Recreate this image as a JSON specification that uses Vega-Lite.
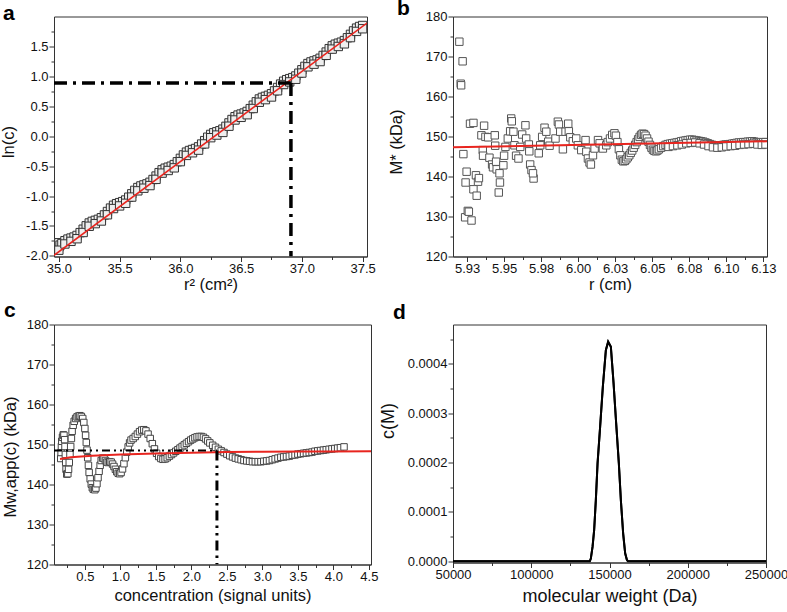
{
  "$schema": "https://vega.github.io/schema/vega-lite/v6.json",
  "background": "white",
  "padding": {"left": -1, "top": -2.5, "right": 0, "bottom": 0},
  "bounds": "flush",
  "columns": 2,
  "spacing": {"row": 68, "column": 82},
  "config": {
    "view": {"stroke": "#333", "strokeWidth": 1},
    "axis": {"grid": false, "labelFont": "Liberation Sans", "titleFont": "Liberation Sans", "labelFontSize": 13, "titleFontSize": 16.5, "titleFontWeight": "normal", "labelColor": "#111", "titleColor": "#111", "tickColor": "#333", "domainColor": "#333", "tickSize": 5, "labelPadding": 1, "labelFlush": false, "labelOverlap": false},
    "title": {"font": "Liberation Sans", "fontSize": 21, "fontWeight": "bold", "anchor": "start", "frame": "group", "baseline": "alphabetic", "color": "#000"}
  },
  "datasets": {
    "pa": [
      {"x":35.000,"y":-1.850},{"x":35.000,"y":-1.780},{"x":35.010,"y":-1.820},{"x":35.025,"y":-1.793},{"x":35.050,"y":-1.746},{"x":35.075,"y":-1.719},{"x":35.100,"y":-1.702},{"x":35.125,"y":-1.685},{"x":35.150,"y":-1.658},{"x":35.175,"y":-1.611},{"x":35.200,"y":-1.554},{"x":35.225,"y":-1.497},{"x":35.250,"y":-1.450},{"x":35.275,"y":-1.423},{"x":35.300,"y":-1.406},{"x":35.325,"y":-1.389},{"x":35.350,"y":-1.362},{"x":35.375,"y":-1.315},{"x":35.400,"y":-1.258},{"x":35.425,"y":-1.201},{"x":35.450,"y":-1.154},{"x":35.475,"y":-1.127},{"x":35.500,"y":-1.110},{"x":35.525,"y":-1.093},{"x":35.550,"y":-1.066},{"x":35.575,"y":-1.019},{"x":35.600,"y":-0.962},{"x":35.625,"y":-0.905},{"x":35.650,"y":-0.858},{"x":35.675,"y":-0.831},{"x":35.700,"y":-0.814},{"x":35.725,"y":-0.797},{"x":35.750,"y":-0.770},{"x":35.775,"y":-0.723},{"x":35.800,"y":-0.666},{"x":35.825,"y":-0.609},{"x":35.850,"y":-0.562},{"x":35.875,"y":-0.535},{"x":35.900,"y":-0.518},{"x":35.925,"y":-0.501},{"x":35.950,"y":-0.474},{"x":35.975,"y":-0.427},{"x":36.000,"y":-0.370},{"x":36.025,"y":-0.313},{"x":36.050,"y":-0.266},{"x":36.075,"y":-0.239},{"x":36.100,"y":-0.222},{"x":36.125,"y":-0.205},{"x":36.150,"y":-0.178},{"x":36.175,"y":-0.131},{"x":36.200,"y":-0.074},{"x":36.225,"y":-0.017},{"x":36.250,"y":0.030},{"x":36.275,"y":0.057},{"x":36.300,"y":0.074},{"x":36.325,"y":0.091},{"x":36.350,"y":0.118},{"x":36.375,"y":0.165},{"x":36.400,"y":0.222},{"x":36.425,"y":0.279},{"x":36.450,"y":0.326},{"x":36.475,"y":0.353},{"x":36.500,"y":0.370},{"x":36.525,"y":0.387},{"x":36.550,"y":0.414},{"x":36.575,"y":0.461},{"x":36.600,"y":0.518},{"x":36.625,"y":0.575},{"x":36.650,"y":0.622},{"x":36.675,"y":0.649},{"x":36.700,"y":0.666},{"x":36.725,"y":0.683},{"x":36.750,"y":0.710},{"x":36.775,"y":0.757},{"x":36.800,"y":0.814},{"x":36.825,"y":0.871},{"x":36.850,"y":0.918},{"x":36.875,"y":0.945},{"x":36.900,"y":0.962},{"x":36.925,"y":0.979},{"x":36.950,"y":1.006},{"x":36.975,"y":1.053},{"x":37.000,"y":1.110},{"x":37.025,"y":1.167},{"x":37.050,"y":1.214},{"x":37.075,"y":1.241},{"x":37.100,"y":1.258},{"x":37.125,"y":1.275},{"x":37.150,"y":1.302},{"x":37.175,"y":1.349},{"x":37.200,"y":1.406},{"x":37.225,"y":1.463},{"x":37.250,"y":1.510},{"x":37.275,"y":1.537},{"x":37.300,"y":1.554},{"x":37.325,"y":1.571},{"x":37.350,"y":1.598},{"x":37.375,"y":1.645},{"x":37.400,"y":1.702},{"x":37.425,"y":1.759},{"x":37.450,"y":1.806},{"x":37.475,"y":1.833},{"x":37.500,"y":1.850},
      {"x":35.00,"y":-1.905},{"x":35.05,"y":-1.801},{"x":35.10,"y":-1.757},{"x":35.15,"y":-1.713},{"x":35.20,"y":-1.609},{"x":35.25,"y":-1.505},{"x":35.30,"y":-1.461},{"x":35.35,"y":-1.417},{"x":35.40,"y":-1.313},{"x":35.45,"y":-1.209},{"x":35.50,"y":-1.165},{"x":35.55,"y":-1.121},{"x":35.60,"y":-1.017},{"x":35.65,"y":-0.913},{"x":35.70,"y":-0.869},{"x":35.75,"y":-0.825},{"x":35.80,"y":-0.721},{"x":35.85,"y":-0.617},{"x":35.90,"y":-0.573},{"x":35.95,"y":-0.529},{"x":36.00,"y":-0.425},{"x":36.05,"y":-0.321},{"x":36.10,"y":-0.277},{"x":36.15,"y":-0.233},{"x":36.20,"y":-0.129},{"x":36.25,"y":-0.025},{"x":36.30,"y":0.019},{"x":36.35,"y":0.063},{"x":36.40,"y":0.167},{"x":36.45,"y":0.271},{"x":36.50,"y":0.315},{"x":36.55,"y":0.359},{"x":36.60,"y":0.463},{"x":36.65,"y":0.567},{"x":36.70,"y":0.611},{"x":36.75,"y":0.655},{"x":36.80,"y":0.759},{"x":36.85,"y":0.863},{"x":36.90,"y":0.907},{"x":36.95,"y":0.951},{"x":37.00,"y":1.055},{"x":37.05,"y":1.159},{"x":37.10,"y":1.203},{"x":37.15,"y":1.247},{"x":37.20,"y":1.351},{"x":37.25,"y":1.455},{"x":37.30,"y":1.499},{"x":37.35,"y":1.543},{"x":37.40,"y":1.647},{"x":37.45,"y":1.751},{"x":37.50,"y":1.795}
    ],
    "pa_fit": [{"x":34.96,"y":-1.99},{"x":37.536,"y":1.89}],
    "pa_h": [{"x":34.96,"y":0.888},{"x":36.91,"y":0.888}],
    "pa_v": [{"x":36.91,"y":0.888},{"x":36.91,"y":-2.01}],
    "pb": [
      {"x":5.9198,"y":173.7},{"x":5.9220,"y":168.8},{"x":5.9207,"y":163.2},{"x":5.9210,"y":162.8},{"x":5.9225,"y":145.6},{"x":5.9237,"y":129.8},{"x":5.9240,"y":138.5},{"x":5.9247,"y":141.2},{"x":5.9255,"y":131.4},{"x":5.9262,"y":131.2},{"x":5.9270,"y":153.2},{"x":5.9293,"y":153.4},{"x":5.9280,"y":129.0},{"x":5.9293,"y":136.8},{"x":5.9310,"y":140.3},{"x":5.9315,"y":135.2},{"x":5.9324,"y":138.7},{"x":5.9330,"y":139.6},{"x":5.9347,"y":150.3},{"x":5.9356,"y":146.6},{"x":5.9358,"y":145.2},{"x":5.9365,"y":152.7},{"x":5.9374,"y":149.9},{"x":5.9392,"y":149.8},{"x":5.9401,"y":144.7},{"x":5.9419,"y":143.0},{"x":5.9425,"y":142.3},{"x":5.9437,"y":150.3},{"x":5.9440,"y":147.7},{"x":5.9446,"y":143.7},{"x":5.9450,"y":141.8},{"x":5.9469,"y":140.8},{"x":5.9472,"y":138.5},{"x":5.9464,"y":136.0},{"x":5.9500,"y":145.2},{"x":5.9495,"y":142.8},{"x":5.9509,"y":147.4},{"x":5.9525,"y":149.5},{"x":5.9541,"y":151.3},{"x":5.9548,"y":154.5},{"x":5.9552,"y":153.8},{"x":5.9563,"y":151.2},{"x":5.9570,"y":147.8},{"x":5.9581,"y":145.2},{"x":5.9597,"y":144.5},{"x":5.9609,"y":147.4},{"x":5.9622,"y":150.5},{"x":5.9644,"y":152.8},{"x":5.9649,"y":149.5},{"x":5.9667,"y":148.0},{"x":5.9670,"y":146.3},{"x":5.9676,"y":143.0},{"x":5.9685,"y":141.6},{"x":5.9699,"y":139.5},{"x":5.9695,"y":140.8},{"x":5.9734,"y":145.8},{"x":5.9744,"y":147.8},{"x":5.9757,"y":149.9},{"x":5.9773,"y":152.2},{"x":5.9785,"y":151.2},{"x":5.9798,"y":148.7},{"x":5.9807,"y":147.7},{"x":5.9847,"y":149.5},{"x":5.9863,"y":153.7},{"x":5.9870,"y":153.0},{"x":5.9879,"y":151.2},{"x":5.9897,"y":146.8},{"x":5.9915,"y":151.2},{"x":5.9933,"y":153.2},{"x":5.9937,"y":151.3},{"x":5.9947,"y":149.8},{"x":5.9964,"y":148.8},{"x":5.9987,"y":149.5},{"x":5.9998,"y":147.8},{"x":6.0021,"y":146.6},{"x":6.0050,"y":149.1},{"x":6.0055,"y":146.2},{"x":6.0066,"y":144.5},{"x":6.0077,"y":143.5},{"x":6.0086,"y":143.0},{"x":6.0100,"y":145.3},{"x":6.0111,"y":147.0},{"x":6.0134,"y":149.1},{"x":6.0145,"y":148.3},{"x":6.0167,"y":147.0},{"x":6.0190,"y":147.8},
      {"x":6.0200,"y":148.6},{"x":6.0215,"y":149.5},{"x":6.0230,"y":150.4},{"x":6.0245,"y":150.8},{"x":6.0255,"y":150.2},{"x":6.0265,"y":148.6},{"x":6.0275,"y":146.8},{"x":6.0285,"y":145.3},{"x":6.0295,"y":144.2},{"x":6.0305,"y":143.8},{"x":6.0315,"y":143.9},{"x":6.0325,"y":144.3},{"x":6.0335,"y":144.8},{"x":6.0345,"y":145.3},{"x":6.0355,"y":145.9},{"x":6.0365,"y":146.5},{"x":6.0375,"y":147.2},{"x":6.0385,"y":147.9},{"x":6.0395,"y":148.6},{"x":6.0405,"y":149.3},{"x":6.0415,"y":149.9},{"x":6.0425,"y":150.4},{"x":6.0435,"y":150.7},{"x":6.0445,"y":150.6},{"x":6.0455,"y":150.2},{"x":6.0465,"y":149.5},{"x":6.0475,"y":148.7},{"x":6.0485,"y":147.9},{"x":6.0495,"y":147.2},{"x":6.0505,"y":146.7},{"x":6.0515,"y":146.4},{"x":6.0525,"y":146.3},{"x":6.0535,"y":146.5},{"x":6.0545,"y":146.8},{"x":6.0560,"y":147.2},{"x":6.0575,"y":147.6},{"x":6.0590,"y":147.9},{"x":6.0605,"y":148.1},{"x":6.0620,"y":148.2},{"x":6.0635,"y":148.3},{"x":6.0650,"y":148.4},{"x":6.0665,"y":148.5},{"x":6.0680,"y":148.6},{"x":6.0695,"y":148.8},{"x":6.0710,"y":148.9},{"x":6.0725,"y":149.0},{"x":6.0740,"y":149.1},{"x":6.0755,"y":149.2},{"x":6.0770,"y":149.2},{"x":6.0785,"y":149.1},{"x":6.0800,"y":149.0},{"x":6.0815,"y":148.9},{"x":6.0830,"y":148.8},{"x":6.0845,"y":148.7},{"x":6.0860,"y":148.5},{"x":6.0875,"y":148.3},{"x":6.0890,"y":148.1},{"x":6.0905,"y":147.9},{"x":6.0920,"y":147.8},{"x":6.0935,"y":147.8},{"x":6.0950,"y":147.8},{"x":6.0965,"y":147.8},{"x":6.0980,"y":147.9},{"x":6.0995,"y":148.0},{"x":6.1010,"y":148.0},{"x":6.1025,"y":148.1},{"x":6.1040,"y":148.2},{"x":6.1055,"y":148.3},{"x":6.1070,"y":148.4},{"x":6.1085,"y":148.5},{"x":6.1100,"y":148.5},{"x":6.1115,"y":148.6},{"x":6.1130,"y":148.6},{"x":6.1145,"y":148.7},{"x":6.1160,"y":148.7},{"x":6.1175,"y":148.8},{"x":6.1190,"y":148.7},{"x":6.1205,"y":148.6},{"x":6.1220,"y":148.5},{"x":6.1235,"y":148.5},{"x":6.1250,"y":148.6},{"x":6.1265,"y":148.6},
      {"x":6.0610,"y":147.4},{"x":6.0640,"y":147.6},{"x":6.0670,"y":147.8},{"x":6.0700,"y":148.0},{"x":6.0730,"y":148.3},{"x":6.0760,"y":148.4},{"x":6.0790,"y":148.5},{"x":6.0820,"y":148.3},{"x":6.0850,"y":148.0},{"x":6.0880,"y":147.6},{"x":6.0910,"y":147.3},{"x":6.0940,"y":147.2},{"x":6.0970,"y":147.3},{"x":6.1000,"y":147.5},{"x":6.1030,"y":147.6},{"x":6.1060,"y":147.7},{"x":6.1090,"y":147.9},{"x":6.1120,"y":148.0},{"x":6.1150,"y":148.1},{"x":6.1180,"y":148.2},{"x":6.1210,"y":148.0},{"x":6.1240,"y":147.9},{"x":6.1265,"y":148.0}
    ],
    "pb_fit": [{"x":5.9155,"y":147.3},{"x":6.1275,"y":148.8}],
    "pc": [
      {"x":0.160,"y":146.5},{"x":0.165,"y":148.0},{"x":0.170,"y":149.5},{"x":0.175,"y":150.8},{"x":0.185,"y":151.8},{"x":0.195,"y":152.4},{"x":0.205,"y":152.3},{"x":0.215,"y":151.2},{"x":0.220,"y":149.5},{"x":0.225,"y":147.5},{"x":0.230,"y":145.5},{"x":0.235,"y":143.8},{"x":0.245,"y":142.6},{"x":0.260,"y":142.7},{"x":0.270,"y":143.8},{"x":0.280,"y":145.5},{"x":0.290,"y":147.5},{"x":0.300,"y":149.5},{"x":0.310,"y":151.5},{"x":0.320,"y":153.3},{"x":0.335,"y":154.8},{"x":0.350,"y":155.8},{"x":0.370,"y":156.5},{"x":0.390,"y":156.9},{"x":0.410,"y":157.1},{"x":0.430,"y":157.2},{"x":0.450,"y":157.0},{"x":0.470,"y":156.5},{"x":0.485,"y":155.5},{"x":0.500,"y":154.0},{"x":0.510,"y":152.3},{"x":0.520,"y":150.5},{"x":0.530,"y":148.6},{"x":0.540,"y":146.7},{"x":0.550,"y":144.8},{"x":0.560,"y":143.0},{"x":0.575,"y":141.4},{"x":0.590,"y":140.1},{"x":0.605,"y":139.2},{"x":0.620,"y":138.8},{"x":0.640,"y":138.7},{"x":0.655,"y":139.1},{"x":0.670,"y":140.2},{"x":0.685,"y":141.7},{"x":0.700,"y":143.3},{"x":0.715,"y":144.8},{"x":0.730,"y":146.0},{"x":0.750,"y":146.6},{"x":0.770,"y":146.5},{"x":0.790,"y":146.0},{"x":0.810,"y":145.6},{"x":0.830,"y":145.5},{"x":0.850,"y":145.7},{"x":0.870,"y":145.6},{"x":0.890,"y":145.1},{"x":0.910,"y":144.5},{"x":0.930,"y":143.8},{"x":0.950,"y":143.2},{"x":0.970,"y":142.8},{"x":0.990,"y":142.7},{"x":1.010,"y":143.0},{"x":1.030,"y":143.9},{"x":1.050,"y":145.2},{"x":1.070,"y":146.7},{"x":1.090,"y":148.1},{"x":1.110,"y":149.4},{"x":1.130,"y":150.4},{"x":1.150,"y":151.1},{"x":1.180,"y":151.5},{"x":1.210,"y":152.0},{"x":1.240,"y":152.6},{"x":1.270,"y":153.2},{"x":1.300,"y":153.6},{"x":1.330,"y":153.7},{"x":1.360,"y":153.4},{"x":1.390,"y":152.6},{"x":1.420,"y":151.5},{"x":1.450,"y":150.2},{"x":1.480,"y":148.9},{"x":1.510,"y":147.8},{"x":1.540,"y":147.0},{"x":1.570,"y":146.5},{"x":1.600,"y":146.3},{"x":1.630,"y":146.4},{"x":1.660,"y":146.7},{"x":1.690,"y":147.1},{"x":1.720,"y":147.5},{"x":1.750,"y":147.9},{"x":1.780,"y":148.3},{"x":1.810,"y":148.7},{"x":1.840,"y":149.1},{"x":1.870,"y":149.5},{"x":1.900,"y":149.9},{"x":1.930,"y":150.3},{"x":1.960,"y":150.7},{"x":1.990,"y":151.1},{"x":2.020,"y":151.4},{"x":2.050,"y":151.7},{"x":2.080,"y":151.9},{"x":2.110,"y":152.0},{"x":2.140,"y":152.0},{"x":2.170,"y":151.8},{"x":2.200,"y":151.4},{"x":2.230,"y":150.9},{"x":2.260,"y":150.4},{"x":2.300,"y":149.8},{"x":2.340,"y":149.3},{"x":2.380,"y":148.8},{"x":2.420,"y":148.4},{"x":2.460,"y":148.0},{"x":2.500,"y":147.6},{"x":2.540,"y":147.2},{"x":2.580,"y":146.9},{"x":2.620,"y":146.6},{"x":2.660,"y":146.4},{"x":2.700,"y":146.2},{"x":2.740,"y":146.0},{"x":2.780,"y":145.9},{"x":2.820,"y":145.8},{"x":2.860,"y":145.7},{"x":2.900,"y":145.7},{"x":2.940,"y":145.7},{"x":2.980,"y":145.7},{"x":3.020,"y":145.8},{"x":3.060,"y":145.9},{"x":3.100,"y":146.0},{"x":3.140,"y":146.2},{"x":3.180,"y":146.4},{"x":3.220,"y":146.6},{"x":3.260,"y":146.8},{"x":3.300,"y":146.9},{"x":3.340,"y":147.0},{"x":3.380,"y":147.1},{"x":3.420,"y":147.3},{"x":3.460,"y":147.4},{"x":3.500,"y":147.6},{"x":3.540,"y":147.7},{"x":3.580,"y":147.8},{"x":3.620,"y":147.9},{"x":3.660,"y":148.0},{"x":3.700,"y":148.1},{"x":3.740,"y":148.3},{"x":3.780,"y":148.4},{"x":3.820,"y":148.5},{"x":3.860,"y":148.6},{"x":3.900,"y":148.7},{"x":3.940,"y":148.8},{"x":3.980,"y":148.9},{"x":4.020,"y":149.0},{"x":4.060,"y":149.1},{"x":4.100,"y":149.2},{"x":4.150,"y":149.4}
    ],
    "pc_fit": [{"x":0.15,"y":146.4},{"x":0.3,"y":146.8},{"x":0.6,"y":147.2},{"x":1.0,"y":147.5},{"x":1.5,"y":147.75},{"x":2.0,"y":147.95},{"x":2.5,"y":148.1},{"x":3.0,"y":148.2},{"x":3.5,"y":148.25},{"x":4.0,"y":148.28},{"x":4.53,"y":148.3}],
    "pc_h": [{"x":0.065,"y":148.5},{"x":2.36,"y":148.5}],
    "pc_v": [{"x":2.36,"y":148.5},{"x":2.36,"y":120}],
    "pd": [
      {"x":50000,"y":0},{"x":137400,"y":0},{"x":138070,"y":0.0000055},{"x":139160,"y":0.000029},{"x":140190,"y":0.000063},{"x":141270,"y":0.000124},{"x":142360,"y":0.000198},{"x":144020,"y":0.000273},{"x":145750,"y":0.000354},{"x":147670,"y":0.000428},{"x":149140,"y":0.000445},{"x":150870,"y":0.000435},{"x":152590,"y":0.000361},{"x":154250,"y":0.00028},{"x":155980,"y":0.000198},{"x":157260,"y":0.000124},{"x":158730,"y":0.000056},{"x":160010,"y":0.000016},{"x":161100,"y":0.000003},{"x":161800,"y":0},{"x":250000,"y":0}
    ]
  },
  "concat": [
    {
      "width": 313, "height": 240,
      "title": {"text": "a", "dx": -51, "offset": -7},
      "layer": [
        {"data": {"name": "pa"}, "mark": {"type": "point", "shape": "square", "filled": true, "fill": "#eeeeee", "stroke": "#333", "strokeWidth": 1, "size": 70, "opacity": 1, "clip": true},
         "encoding": {
           "x": {"field": "x", "type": "quantitative", "scale": {"domain": [34.96, 37.536], "nice": false, "zero": false},
                 "axis": {"title": "r² (cm²)", "values": [35, 35.5, 36, 36.5, 37, 37.5], "format": ".1f", "titlePadding": 1}},
           "y": {"field": "y", "type": "quantitative", "scale": {"domain": [-2.01, 2.0], "nice": false, "zero": false},
                 "axis": {"title": "ln(c)", "values": [-2, -1.5, -1, -0.5, 0, 0.5, 1, 1.5], "labelExpr": "datum.value < 0 ? '-' + format(-datum.value, '.1f') : format(datum.value, '.1f')", "titleX": -38, "titleY": 125, "titleAngle": 270, "titleBaseline": "bottom", "titleAlign": "center"}}
         }},
        {"data": {"name": "pa_fit"}, "mark": {"type": "line", "color": "#e8251f", "strokeWidth": 1.6, "clip": true},
         "encoding": {
           "x": {"field": "x", "type": "quantitative", "axis": {"orient": "bottom", "values": [35.25, 35.75, 36.25, 36.75, 37.25], "labels": false, "domain": false, "tickSize": 3, "title": null}},
           "y": {"field": "y", "type": "quantitative", "axis": {"orient": "left", "values": [-1.75, -1.25, -0.75, -0.25, 0.25, 0.75, 1.25, 1.75], "labels": false, "domain": false, "tickSize": 3, "title": null}}
         }},
        {"data": {"name": "pa_h"}, "mark": {"type": "line", "color": "black", "strokeWidth": 3.5, "strokeDash": [13, 6, 3, 6], "clip": true},
         "encoding": {"x": {"field": "x", "type": "quantitative", "axis": null}, "y": {"field": "y", "type": "quantitative", "axis": null}}},
        {"data": {"name": "pa_v"}, "mark": {"type": "line", "color": "black", "strokeWidth": 3.5, "strokeDash": [13, 6, 3, 6], "clip": true},
         "encoding": {"x": {"field": "x", "type": "quantitative", "axis": null}, "y": {"field": "y", "type": "quantitative", "axis": null}}}
      ],
      "resolve": {"axis": {"x": "independent", "y": "independent"}}
    },
    {
      "width": 314, "height": 240,
      "title": {"text": "b", "dx": -56, "offset": -8.5},
      "layer": [
        {"data": {"name": "pb"}, "mark": {"type": "point", "shape": "square", "filled": true, "fill": "white", "stroke": "#555", "strokeWidth": 1, "size": 55, "opacity": 1, "clip": true},
         "encoding": {
           "x": {"field": "x", "type": "quantitative", "scale": {"domain": [5.9155, 6.1275], "nice": false, "zero": false},
                 "axis": {"title": "r (cm)", "values": [5.925, 5.95, 5.975, 6.0, 6.025, 6.05, 6.075, 6.1, 6.125], "labelExpr": "format(datum.value + 0.001, '.2f')", "titlePadding": 1}},
           "y": {"field": "y", "type": "quantitative", "scale": {"domain": [120, 180], "nice": false, "zero": false},
                 "axis": {"title": "M* (kDa)", "values": [120, 130, 140, 150, 160, 170, 180], "format": "d", "titleX": -49, "titleY": 125, "titleAngle": 270, "titleBaseline": "bottom", "titleAlign": "center"}}
         }},
        {"data": {"name": "pb_fit"}, "mark": {"type": "line", "color": "#e8251f", "strokeWidth": 2, "clip": true},
         "encoding": {
           "x": {"field": "x", "type": "quantitative", "axis": {"orient": "bottom", "values": [5.9375, 5.9625, 5.9875, 6.0125, 6.0375, 6.0625, 6.0875, 6.1125], "labels": false, "domain": false, "tickSize": 3, "title": null}},
           "y": {"field": "y", "type": "quantitative", "axis": {"orient": "left", "values": [125, 135, 145, 155, 165, 175], "labels": false, "domain": false, "tickSize": 3, "title": null}}
         }}
      ],
      "resolve": {"axis": {"x": "independent", "y": "independent"}}
    },
    {
      "width": 317, "height": 240,
      "title": {"text": "c", "dx": -50, "offset": -2},
      "layer": [
        {"data": {"name": "pc"}, "mark": {"type": "point", "shape": "square", "filled": true, "fill": "white", "stroke": "#444", "strokeWidth": 1, "size": 42, "opacity": 1, "clip": true},
         "encoding": {
           "x": {"field": "x", "type": "quantitative", "scale": {"domain": [0.065, 4.53], "nice": false, "zero": false},
                 "axis": {"title": "concentration (signal units)", "values": [0.5, 1, 1.5, 2, 2.5, 3, 3.5, 4, 4.5], "format": ".1f", "titlePadding": 4}},
           "y": {"field": "y", "type": "quantitative", "scale": {"domain": [120, 180], "nice": false, "zero": false},
                 "axis": {"title": "Mw,app(c) (kDa)", "values": [120, 130, 140, 150, 160, 170, 180], "format": "d", "titleX": -36, "titleY": 132, "titleAngle": 270, "titleBaseline": "bottom", "titleAlign": "center"}}
         }},
        {"data": {"name": "pc_fit"}, "mark": {"type": "line", "color": "#e8251f", "strokeWidth": 2, "clip": true},
         "encoding": {
           "x": {"field": "x", "type": "quantitative", "axis": {"orient": "bottom", "values": [0.25, 0.75, 1.25, 1.75, 2.25, 2.75, 3.25, 3.75, 4.25], "labels": false, "domain": false, "tickSize": 3, "title": null}},
           "y": {"field": "y", "type": "quantitative", "axis": {"orient": "left", "values": [125, 135, 145, 155, 165, 175], "labels": false, "domain": false, "tickSize": 3, "title": null}}
         }},
        {"data": {"name": "pc_h"}, "mark": {"type": "line", "color": "black", "strokeWidth": 2, "strokeDash": [8, 4, 2, 4, 2, 4], "clip": true},
         "encoding": {"x": {"field": "x", "type": "quantitative", "axis": null}, "y": {"field": "y", "type": "quantitative", "axis": null}}},
        {"data": {"name": "pc_v"}, "mark": {"type": "line", "color": "black", "strokeWidth": 3, "strokeDash": [10, 5, 2.5, 5, 2.5, 5], "clip": true},
         "encoding": {"x": {"field": "x", "type": "quantitative", "axis": null}, "y": {"field": "y", "type": "quantitative", "axis": null}}}
      ],
      "resolve": {"axis": {"x": "independent", "y": "independent"}}
    },
    {
      "width": 313, "height": 238,
      "title": {"text": "d", "dx": -60, "offset": 2},
      "layer": [
        {"data": {"name": "pd"}, "mark": {"type": "line", "color": "black", "strokeWidth": 2, "clip": true},
         "encoding": {
           "x": {"field": "x", "type": "quantitative", "scale": {"domain": [50000, 250000], "nice": false, "zero": false},
                 "axis": {"title": "molecular weight (Da)", "titleFontSize": 18, "values": [50000, 100000, 150000, 200000, 250000], "format": "d", "titlePadding": 6}},
           "y": {"field": "y", "type": "quantitative", "scale": {"domain": [-0.0000025, 0.00048], "nice": false, "zero": false},
                 "axis": {"title": "c(M)", "titleFontSize": 18, "values": [0, 0.0001, 0.0002, 0.0003, 0.0004], "format": ".4f", "titleX": -56, "titleY": 96, "titleAngle": 270, "titleBaseline": "bottom", "titleAlign": "center"}}
         }},
        {"data": {"name": "pd"}, "mark": {"type": "line", "color": "black", "strokeWidth": 2, "clip": true},
         "encoding": {
           "x": {"field": "x", "type": "quantitative", "axis": {"orient": "bottom", "values": [75000, 125000, 175000, 225000], "labels": false, "domain": false, "tickSize": 3, "title": null}},
           "y": {"field": "y", "type": "quantitative", "axis": {"orient": "left", "values": [0.00005, 0.00015, 0.00025, 0.00035, 0.00045], "labels": false, "domain": false, "tickSize": 3, "title": null}}
         }}
      ],
      "resolve": {"axis": {"x": "independent", "y": "independent"}}
    }
  ]
}
